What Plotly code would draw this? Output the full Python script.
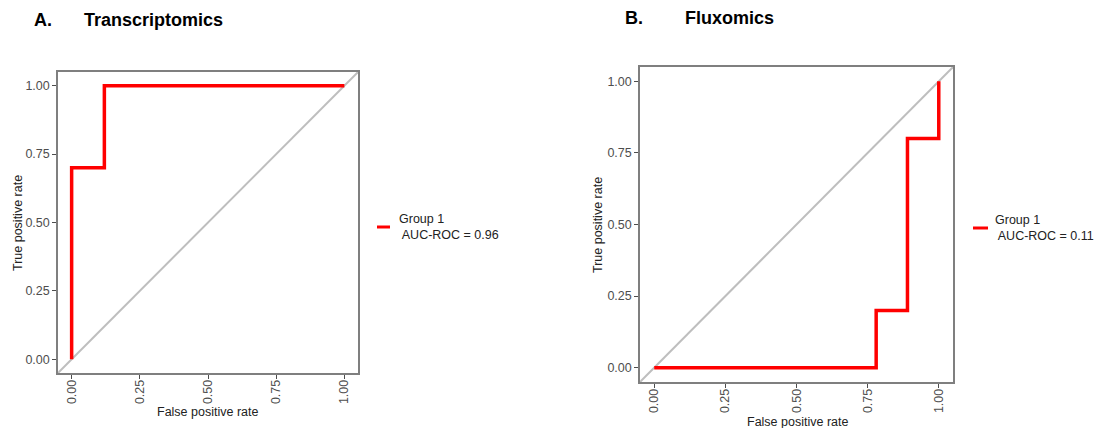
import plotly.graph_objects as go

# Panel A: Transcriptomics ROC
fpr_a = [0.0, 0.0, 0.12, 0.12, 1.0]
tpr_a = [0.0, 0.70, 0.70, 1.0, 1.0]
auc_a = 0.96

# Panel B: Fluxomics ROC
fpr_b = [0.0, 0.78, 0.78, 0.89, 0.89, 1.0, 1.0]
tpr_b = [0.0, 0.0, 0.20, 0.20, 0.80, 0.80, 1.0]
auc_b = 0.11

diag = [-0.1, 1.1]
tick_vals = [0.0, 0.25, 0.5, 0.75, 1.0]
tick_text = ["0.00", "0.25", "0.50", "0.75", "1.00"]

FONT = "Liberation Sans, Arial, sans-serif"
W, H = 1105, 428

fig = go.Figure()

for i, (fx, ty) in enumerate([(fpr_a, tpr_a), (fpr_b, tpr_b)]):
    xa = "x" if i == 0 else "x2"
    ya = "y" if i == 0 else "y2"
    fig.add_trace(go.Scatter(x=diag, y=diag, mode="lines", xaxis=xa, yaxis=ya,
                             line=dict(color="#BEBEBE", width=2), showlegend=False,
                             hoverinfo="skip"))
    fig.add_trace(go.Scatter(x=fx, y=ty, mode="lines", xaxis=xa, yaxis=ya,
                             line=dict(color="#FF0000", width=3.5), showlegend=False))

def px_x(p):
    return p / W

def px_y(p):
    return (H - p) / H

axis_common = dict(
    range=[-0.05, 1.05], tickvals=tick_vals, ticktext=tick_text,
    showgrid=False, zeroline=False, showline=True, mirror=True,
    linecolor="#7F7F7F", linewidth=1.5, ticks="outside", ticklen=4,
    tickcolor="#4D4D4D", tickwidth=1, automargin=False,
    tickfont=dict(family=FONT, size=12.5, color="#4D4D4D"),
)

fig.update_layout(
    width=W, height=H, margin=dict(l=0, r=0, t=0, b=0),
    plot_bgcolor="white", paper_bgcolor="white",
    xaxis=dict(axis_common, domain=[px_x(58), px_x(358)], anchor="y", tickangle=-90,
               ticklabelstandoff=-4),
    yaxis=dict(axis_common, domain=[px_y(373), px_y(72)], anchor="x"),
    xaxis2=dict(axis_common, domain=[px_x(640), px_x(953)], anchor="y2", tickangle=-90,
                ticklabelstandoff=-4),
    yaxis2=dict(axis_common, domain=[px_y(382), px_y(67)], anchor="x2"),
)

titles = [("A.", 32, 20), ("Transcriptomics", 82, 20), ("B.", 623, 18), ("Fluxomics", 683, 18)]
for txt, x, y in titles:
    fig.add_annotation(text=f"<b>{txt}</b>", x=px_x(x), y=px_y(y), xref="paper", yref="paper",
                       xanchor="left", yanchor="middle", showarrow=False,
                       font=dict(family=FONT, size=18, color="black"))

# axis titles
axis_titles = [("False positive rate", 207, 412, 0), ("False positive rate", 797, 422, 0),
               ("True positive rate", 18, 223, -90), ("True positive rate", 598, 225, -90)]
for txt, x, y, ang in axis_titles:
    fig.add_annotation(text=txt, x=px_x(x), y=px_y(y), xref="paper", yref="paper",
                       xanchor="center", yanchor="middle", showarrow=False, textangle=ang,
                       font=dict(family=FONT, size=12.5, color="#222"))

legends = [(377, 390, 227, 397, auc_a), (973, 988, 228, 993, auc_b)]
for x0, x1, yl, xt, auc in legends:
    fig.add_shape(type="line", xref="paper", yref="paper", x0=px_x(x0), x1=px_x(x1),
                  y0=px_y(yl), y1=px_y(yl), line=dict(color="#FF0000", width=3))
    fig.add_annotation(text=f"Group 1<br> AUC-ROC = {auc:.2f}", x=px_x(xt), y=px_y(yl),
                       xref="paper", yref="paper", xanchor="left", yanchor="middle",
                       align="left", showarrow=False,
                       font=dict(family=FONT, size=12.5, color="#222"))

fig.write_html("out.html")
